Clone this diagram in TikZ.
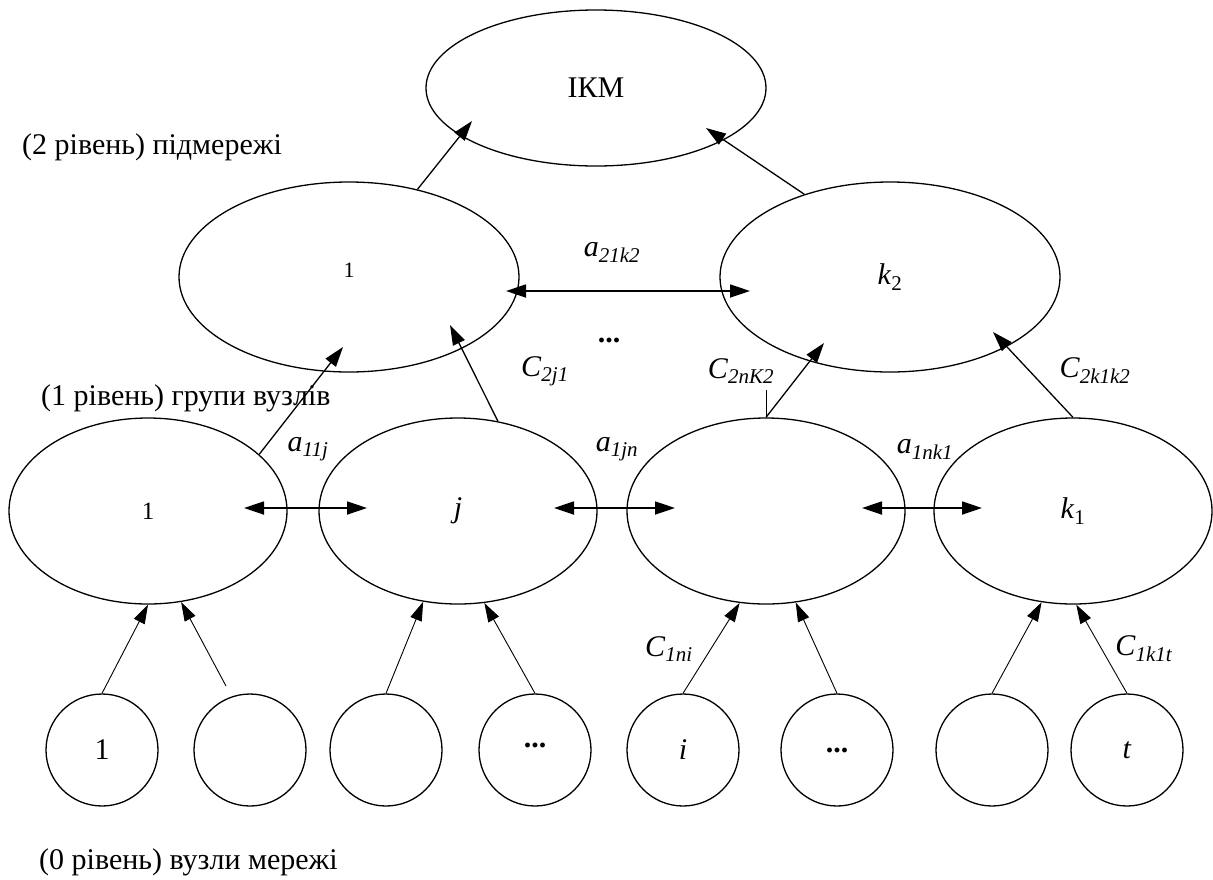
\documentclass[tikz,border=0pt]{standalone}
\usepackage{fontspec}
\setmainfont{Liberation Serif}
\usetikzlibrary{shapes.geometric,arrows.meta}

\tikzset{
  net/.style={draw, ellipse, line width=1.3pt, inner sep=0pt},
  lab/.style={inner sep=0pt},
  link/.style={-{Triangle[length=20pt,width=13pt]}, line width=1.3pt},
  thinlink/.style={-{Triangle[length=19pt,width=12pt]}, line width=0.9pt},
  both/.style={{Triangle[length=20pt,width=13pt]}-{Triangle[length=20pt,width=13pt]}, line width=1.8pt},
}

\begin{document}
\begin{tikzpicture}[x=1pt, y=-1pt, font=\fontsize{30}{36}\selectfont]
\useasboundingbox (0,0) rectangle (1213,879);

%% level 2 and the IKM
\node[net, minimum width=340pt, minimum height=156pt] (ikm) at (596,88) {ІКМ};
\node[net, minimum width=340pt, minimum height=190pt] (sub1) at (349,277) {\raisebox{13pt}{\fontsize{22}{26}\selectfont 1}};
\node[net, minimum width=340pt, minimum height=190pt] (subk) at (890,277) {\textit{k}\textsubscript{2}};

%% level 1
\node[net, minimum width=278pt, minimum height=186pt] (grp1) at (148,511) {\fontsize{25}{30}\selectfont 1};
\node[net, minimum width=278pt, minimum height=186pt] (grpj) at (458,511) {\textit{j}};
\node[net, minimum width=278pt, minimum height=186pt] (grpn) at (766,511) {};
\node[net, minimum width=278pt, minimum height=186pt] (grpk) at (1073,511) {\textit{k}\textsubscript{1}};

%% level 0
\foreach \i/\x/\t in {1/102/1, 2/250/, 3/386/, 4/535/\raisebox{9pt}{\textbf{...}},
                      5/683/\textit{i}, 6/837/\raisebox{-6pt}{\textbf{...}}, 7/992/, 8/1127/\textit{t}}
  \node[net, circle, minimum size=112pt] (node\i) at (\x,750) {\t};

% level names
\node[lab, anchor=west] (lvl2) at (22,147) {(2 рівень) підмережі};
\node[lab, anchor=west] (lvl1) at (41,398) {(1 рівень) групи вузлів};
\node[lab, anchor=west] (lvl0) at (39,862) {(0 рівень) вузли мережі};

% link weights
\node[lab] (a21k2) at (612,252) {\textit{a}\textsubscript{\textit{21k2}}};
\node[lab] (dots) at (609,340) {\textbf{...}};
\node[lab] (c2j1) at (545,371) {\textit{C}\textsubscript{\textit{2j1}}};
\node[lab] (c2nk2) at (741,371) {\textit{C}\textsubscript{\textit{2nK2}}};
\node[lab] (c2k1k2) at (1095,371) {\textit{C}\textsubscript{\textit{2k1k2}}};
\node[lab] (a11j) at (308,449) {\textit{a}\textsubscript{\textit{11j}}};
\node[lab] (a1jn) at (617,449) {\textit{a}\textsubscript{\textit{1jn}}};
\node[lab] (a1nk1) at (925,449) {\textit{a}\textsubscript{\textit{1nk1}}};
\node[lab] (c1ni) at (669,649) {\textit{C}\textsubscript{\textit{1ni}}};
\node[lab] (c1k1t) at (1144,649) {\textit{C}\textsubscript{\textit{1k1t}}};

%% arrows up to the IKM
\draw[link] (sub1.52) -- ([shift={(-124,33)}]ikm.center);
\draw[link] (subk.136) -- ([shift={(110,40)}]ikm.center);

%% arrows from level 1 to level 2
\draw[link] (grp1.27) -- ([shift={(-6,70)}]sub1.center);
\draw[link] (grpj.66) -- ([shift={(101,48)}]sub1.center);
\draw[link] (grpn.north) -- ([shift={(-66,66)}]subk.center);
\draw[link] (grpk.north) -- ([shift={(103,55)}]subk.center);
\draw[line width=0.9pt] (grpn.north) -- ++(0,-27);

% links inside a level
\draw[both] ([shift={(157,14)}]sub1.center) -- ([shift={(-140,14)}]subk.center);
\foreach \a/\b in {grp1/grpj, grpj/grpn, grpn/grpk}
  \draw[both] ([shift={(96,-3)}]\a.center) -- ([shift={(-91,-3)}]\b.center);

%% arrows from level 0 to level 1
\foreach \c/\g/\e in {node1/grp1/south, node3/grpj/-111, node4/grpj/-74, node5/grpn/-106,
                      node6/grpn/-72, node7/grpk/-109, node8/grpk/-88}
  \draw[thinlink] (\c.north) -- (\g.\e);
\draw[thinlink] ([shift={(-24,-64)}]node2.center) -- (grp1.-70);

\end{tikzpicture}
\end{document}
